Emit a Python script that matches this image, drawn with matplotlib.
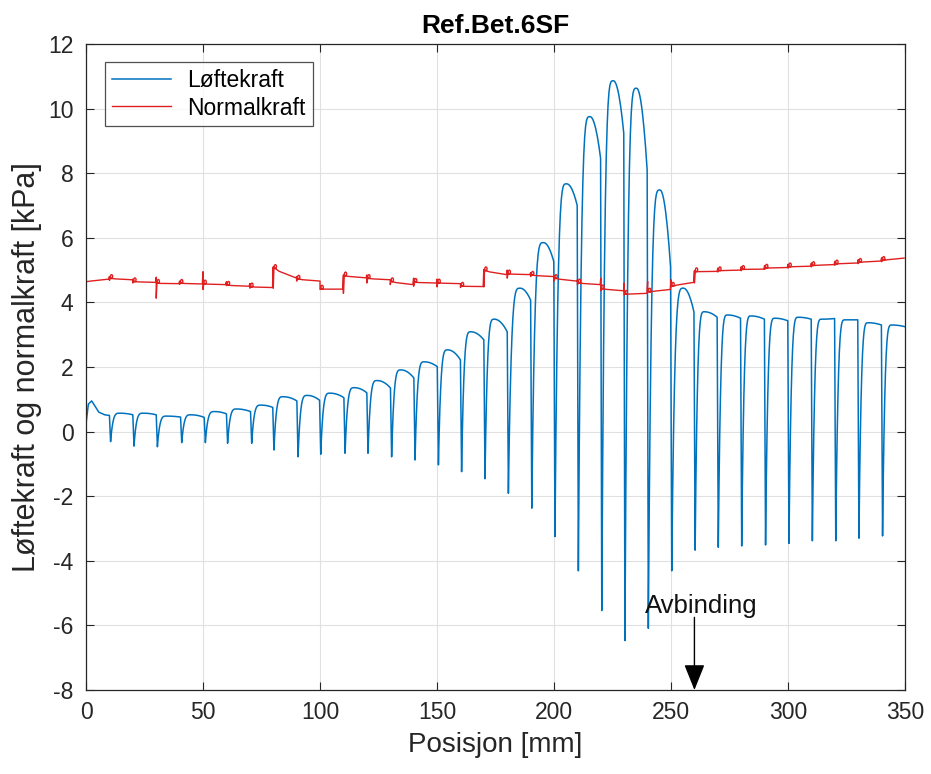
import numpy as np
import matplotlib
matplotlib.use("Agg")
import matplotlib.pyplot as plt

plt.rcParams['font.family'] = ['Liberation Sans', 'DejaVu Sans']
plt.rcParams['axes.unicode_minus'] = False

# --- Løftekraft (blue): one cycle per dip ---
start_x = [0, 1.0, 2.4, 5.5, 8.0, 10.0]
start_y = [0.25, 0.85, 0.95, 0.6, 0.52, 0.5]

dip_x = [10.5, 20.5, 30.5, 40.9, 51.0, 60.5, 70.8, 80.3, 90.6, 100.3, 110.7, 120.5,
         130.6, 140.6, 150.6, 160.5, 170.5, 180.5, 190.5, 200.4, 210.4, 220.4, 230.3,
         240.3, 250.3, 260.3, 270.2, 280.2, 290.4, 300.4, 310.4, 320.4, 330.3, 340.4]
dip_min = [-0.31, -0.45, -0.47, -0.34, -0.34, -0.36, -0.36, -0.57, -0.78, -0.70, -0.67, -0.67,
           -0.78, -0.88, -1.03, -1.24, -1.46, -1.91, -2.37, -3.25, -4.31, -5.54, -6.47,
           -6.09, -4.31, -3.67, -3.58, -3.54, -3.51, -3.46, -3.38, -3.38, -3.30, -3.23]
peak_val = [0.57, 0.57, 0.48, 0.52, 0.62, 0.70, 0.82, 1.08, 1.12, 1.19, 1.36, 1.58,
            1.91, 2.16, 2.53, 3.09, 3.48, 4.44, 5.85, 7.67, 9.75, 10.86, 10.63,
            7.48, 4.44, 3.71, 3.61, 3.58, 3.51, 3.54, 3.48, 3.46, 3.37, 3.30]
end_val = [0.52, 0.52, 0.45, 0.44, 0.55, 0.62, 0.75, 0.95, 0.97, 1.05, 1.20, 1.35,
           1.66, 2.01, 2.22, 2.84, 3.09, 4.07, 5.26, 7.00, 8.46, 9.24, 8.10,
           5.10, 3.70, 3.54, 3.51, 3.48, 3.43, 3.48, 3.50, 3.46, 3.30, 3.25]

# --- Normalkraft (red): level segments between small loops ---
red_x = [0, 10, 20, 30, 40, 50, 60, 70, 80, 90, 100, 110, 120, 130, 140, 150, 160, 170,
         180, 190, 200, 210, 220, 230, 240, 250, 260, 270, 280, 290, 300, 310, 320, 330, 340]
red_start = [4.64, 4.74, 4.64, 4.59, 4.59, 4.57, 4.53, 4.48, 5.05, 4.72, 4.41, 4.82, 4.74,
             4.64, 4.62, 4.60, 4.50, 4.98, 4.88, 4.84, 4.74, 4.60, 4.42, 4.25, 4.32, 4.50,
             4.95, 4.98, 5.02, 5.06, 5.10, 5.14, 5.19, 5.24, 5.30]
red_end = [4.72, 4.70, 4.62, 4.58, 4.57, 4.55, 4.50, 4.46, 4.76, 4.66, 4.41, 4.76, 4.70,
           4.55, 4.60, 4.58, 4.49, 4.86, 4.86, 4.80, 4.66, 4.55, 4.36, 4.28, 4.40, 4.62,
           4.96, 5.00, 5.03, 5.08, 5.12, 5.17, 5.22, 5.28, 5.37]
red_hi = [4.64, 4.80, 4.72, 4.78, 4.66, 4.95, 4.64, 4.58, 5.10, 4.80, 4.66, 4.85, 4.85,
          4.70, 4.75, 4.72, 4.58, 5.02, 5.00, 4.92, 4.82, 4.70, 4.75, 4.60, 4.65, 4.70,
          4.98, 5.06, 5.10, 5.14, 5.18, 5.22, 5.27, 5.32, 5.38]
red_lo = [4.64, 4.68, 4.60, 4.13, 4.56, 4.40, 4.52, 4.44, 4.44, 4.66, 4.40, 4.28, 4.60,
          4.55, 4.50, 4.48, 4.46, 4.48, 4.75, 4.80, 4.66, 4.55, 4.36, 4.23, 4.36, 4.48,
          4.60, 4.94, 4.98, 5.02, 5.06, 5.10, 5.15, 5.20, 5.26]

# build blue polyline: fast rise to a rounded top, then sag to the next dip
bx = list(start_x)
by = list(start_y)
s = np.linspace(0, 1, 14)
for i, d in enumerate(dip_x):
    pre = by[-1]
    nxt = dip_x[i + 1] if i + 1 < len(dip_x) else 350.3
    pk = d + (5.0 if peak_val[i] > 4 else 4.0)
    bx += [d - 0.5]
    by += [pre]
    bx += list(d + (pk - d) * s)
    by += list(dip_min[i] + (peak_val[i] - dip_min[i]) * (1 - (1 - s) ** 4))
    bx += list(pk + (nxt - 0.5 - pk) * s[1:])
    by += list(peak_val[i] + (end_val[i] - peak_val[i]) * s[1:] ** 2)

# build red polyline
rx, ry = [], []
t = np.linspace(0, 2 * np.pi, 9)
for i, f in enumerate(red_x):
    if i > 0:
        rx += [f - 0.3, f, f, f + 0.3]
        ry += [red_end[i - 1], red_hi[i], red_lo[i], red_start[i]]
        rx += list(f + 0.9 + 0.5 * np.sin(t))
        ry += list(red_start[i] + 0.06 - 0.06 * np.cos(t))
    else:
        rx.append(f)
        ry.append(red_start[i])
    nxt = red_x[i + 1] if i + 1 < len(red_x) else 350
    rx += [f + 2.5, nxt - 0.4]
    ry += [red_start[i] + 0.3 * (red_end[i] - red_start[i]), red_end[i]]

fig = plt.figure(figsize=(9.31, 7.74), dpi=100)
ax = fig.add_axes([0.0924, 0.1085, 0.8797, 0.8347])

ax.plot(bx, by, color='#0072BD', lw=1.1, label='Løftekraft')
ax.plot(rx, ry, color='#E02020', lw=1.0, label='Normalkraft')

ax.set_xlim(0, 350)
ax.set_ylim(-8, 12)
ax.set_xticks(np.arange(0, 351, 50))
ax.set_yticks(np.arange(-8, 13, 2))
ax.grid(True, color='#e0e0e0', lw=0.8)
ax.set_axisbelow(True)
ax.tick_params(direction='in', top=True, right=True, labelsize=16.5,
               colors='#262626', length=6, width=0.8)
ax.tick_params(axis='y', pad=9)
ax.tick_params(axis='x', pad=8)
for sp in ax.spines.values():
    sp.set_color('#262626')
    sp.set_linewidth(0.9)

ax.set_title('Ref.Bet.6SF', fontsize=19, fontweight='bold', pad=8)
ax.set_xlabel('Posisjon [mm]', fontsize=20, color='#262626', labelpad=6)
ax.set_ylabel('Løftekraft og normalkraft [kPa]', fontsize=22, color='#262626', labelpad=4)

ax.text(263, -5.62, 'Avbinding', fontsize=18.5, ha='center', va='baseline', color='#111111')
ax.annotate('', xy=(260, -8), xytext=(260, -5.75),
            arrowprops=dict(arrowstyle='-|>,head_length=1.0,head_width=0.4',
                            color='black', lw=1.0, mutation_scale=16,
                            shrinkA=0, shrinkB=0))

leg = ax.legend(loc='upper left', bbox_to_anchor=(0.023, 0.972), fontsize=16.5,
                frameon=True, fancybox=False, edgecolor='#262626', borderaxespad=0,
                handlelength=2.6, borderpad=0.3, labelspacing=0.2, handletextpad=0.7)
leg.get_frame().set_linewidth(0.9)

fig.savefig('out.png', dpi=100, facecolor='white')
